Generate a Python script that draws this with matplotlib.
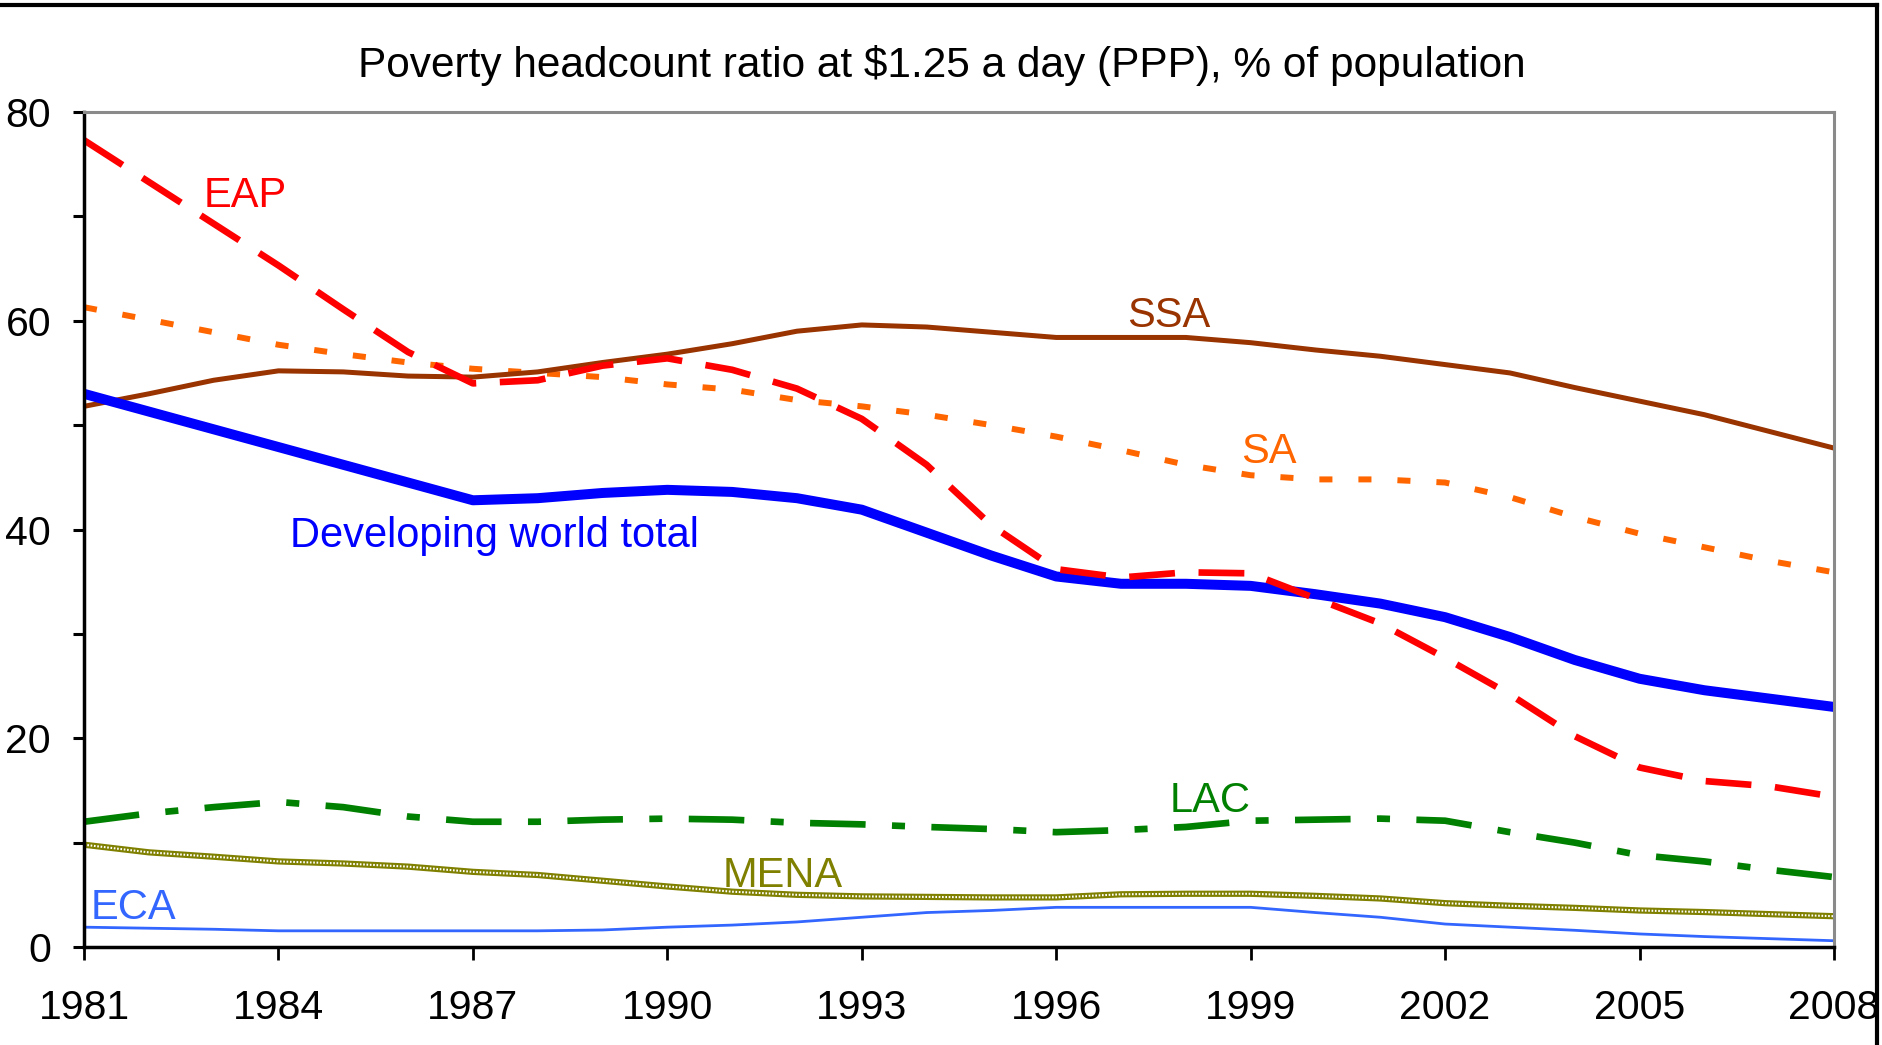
import matplotlib
matplotlib.use("Agg")
import matplotlib.pyplot as plt
from matplotlib.lines import Line2D

plt.rcParams['font.family'] = ['Liberation Sans', 'DejaVu Sans']
plt.rcParams['lines.scale_dashes'] = False

# values, one per year 1981..2008
years = list(range(1981, 2009))

eap = [77.3, 73.3, 69.3, 65.3, 61.1, 57.0, 54.0, 54.3, 55.7, 56.4,
       55.3, 53.5, 50.6, 46.2, 40.4, 36.2, 35.4, 35.9, 35.8, 33.4,
       31.0, 27.7, 24.2, 20.2, 17.2, 15.9, 15.4, 14.4]
ssa = [51.8, 53.0, 54.3, 55.2, 55.1, 54.7, 54.6, 55.1, 56.0, 56.8,
       57.8, 59.0, 59.6, 59.4, 58.9, 58.4, 58.4, 58.4, 57.9, 57.2,
       56.6, 55.8, 55.0, 53.6, 52.3, 51.0, 49.4, 47.8]
sa = [61.3, 60.1, 58.9, 57.7, 56.8, 56.0, 55.4, 55.0, 54.6, 53.9,
      53.4, 52.4, 51.8, 51.0, 50.0, 48.9, 47.6, 46.2, 45.2, 44.8,
      44.8, 44.5, 43.1, 41.2, 39.6, 38.3, 37.0, 35.9]
total = [53.0, 51.3, 49.6, 47.9, 46.2, 44.5, 42.8, 43.0, 43.5, 43.8,
         43.6, 43.0, 41.9, 39.7, 37.5, 35.5, 34.8, 34.8, 34.6, 33.8,
         32.9, 31.6, 29.7, 27.5, 25.7, 24.6, 23.8, 23.0]
lac = [12.0, 12.8, 13.4, 13.9, 13.4, 12.5, 12.0, 12.0, 12.2, 12.3,
       12.2, 11.9, 11.75, 11.5, 11.3, 11.0, 11.2, 11.5, 12.1, 12.2,
       12.3, 12.1, 11.0, 10.0, 8.8, 8.2, 7.4, 6.7]
mena = [9.8, 9.07, 8.65, 8.2, 8.0, 7.7, 7.2, 6.9, 6.35, 5.8,
        5.3, 5.0, 4.85, 4.8, 4.75, 4.75, 5.05, 5.1, 5.1, 4.9,
        4.65, 4.2, 3.95, 3.75, 3.5, 3.35, 3.15, 2.95]
eca = [1.9, 1.8, 1.7, 1.55, 1.55, 1.55, 1.55, 1.55, 1.63, 1.9,
       2.1, 2.4, 2.85, 3.3, 3.5, 3.8, 3.8, 3.8, 3.8, 3.3,
       2.85, 2.2, 1.9, 1.6, 1.25, 1.0, 0.8, 0.6]

xticks = list(range(1981, 2009, 3))

fig = plt.figure(figsize=(18.83, 10.45), dpi=100)
ax = fig.add_axes([0.04461, 0.09378, 0.92937, 0.79904])

# MENA: olive line with white checker overlay
ax.plot(years, mena, color="#808000", lw=4.5, solid_capstyle="butt")
ax.plot(years, mena, color="white", lw=1.5, dashes=(1.2, 1.2), dash_capstyle="butt")
ax.plot(years, eca, color="#3366FF", lw=2.0)
ax.plot(years, lac, color="#008000", lw=4.8, dashes=(40, 19, 9.4, 19), dash_capstyle="butt")
ax.plot(years, sa, color="#FF6600", lw=4.3, dashes=(9.4, 18.7), dash_capstyle="butt")
ax.plot(years, ssa, color="#993300", lw=3.6)
ax.plot(years, total, color="#0000FF", lw=7.2)
ax.plot(years, eap, color="#FF0000", lw=4.8, dashes=(33, 17), dash_capstyle="butt")

ax.set_xlim(1981, 2008)
ax.set_ylim(0, 80)
ax.set_xticks(xticks)
ax.set_xticklabels([str(y) for y in xticks])
ax.set_yticks([0, 20, 40, 60, 80])
ax.set_yticks([10, 30, 50, 70], minor=True)
ax.tick_params(axis="x", direction="out", length=9.5, width=2, labelsize=29.5, pad=21)
ax.tick_params(axis="y", which="both", direction="out", length=7.7, width=2.2, labelsize=29.5, pad=16)

for side in ("left", "bottom"):
    ax.spines[side].set_color("black")
    ax.spines[side].set_linewidth(2.5)
for side in ("top", "right"):
    ax.spines[side].set_color("#8a8a8a")
    ax.spines[side].set_linewidth(2.2)

# series labels
lab = dict(fontsize=30, va="baseline", ha="left")
ax.text(1982.85, 70.9, "EAP", color="#FF0000", **lab)
ax.text(1997.1, 59.4, "SSA", color="#993300", **lab)
ax.text(1998.85, 46.4, "SA", color="#FF6600", **lab)
ax.text(1984.18, 38.3, "Developing world total", color="#0000FF", **lab)
ax.text(1997.75, 12.9, "LAC", color="#008000", **lab)
ax.text(1990.85, 5.75, "MENA", color="#808000", **lab)
ax.text(1981.1, 2.7, "ECA", color="#3366FF", **lab)

fig.text(0.5, 0.9263, "Poverty headcount ratio at $1.25 a day (PPP), % of population",
         fontsize=30.5, ha="center", va="baseline")

# outer frame (top and right edges visible)
fig.add_artist(Line2D([0, 1877 / 1883], [1 - 5 / 1045, 1 - 5 / 1045], color="black", lw=3,
                      transform=fig.transFigure))
fig.add_artist(Line2D([1877 / 1883, 1877 / 1883], [0, 1 - 5 / 1045], color="black", lw=3,
                      transform=fig.transFigure))

fig.savefig("out.png", dpi=100)
